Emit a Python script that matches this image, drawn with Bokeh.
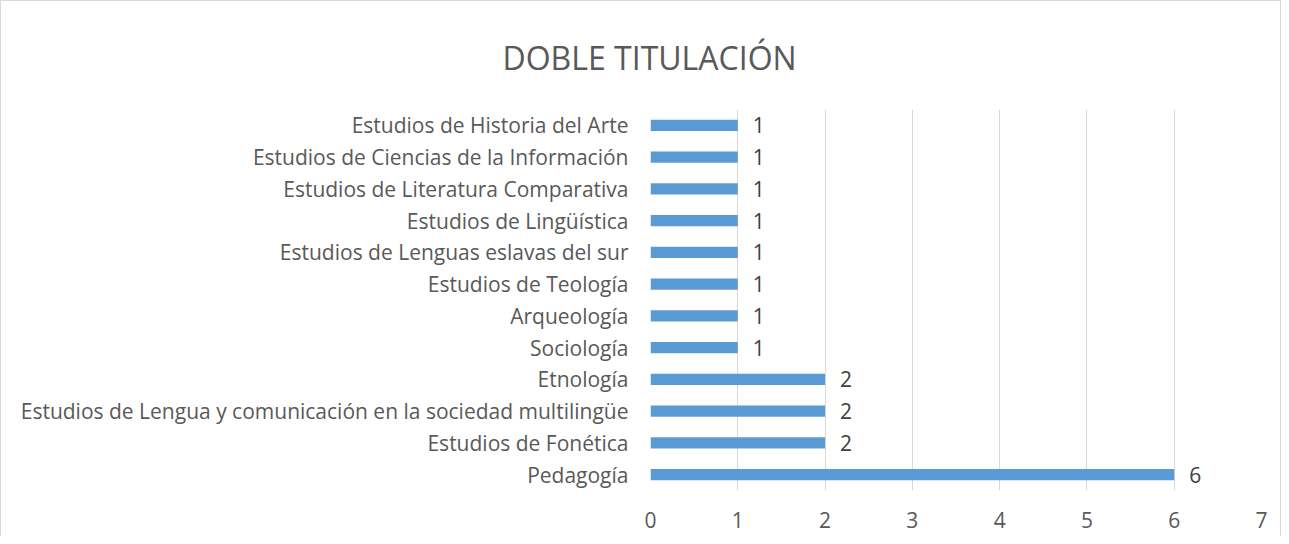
from bokeh.plotting import figure
from bokeh.models import ColumnDataSource, LabelSet, FactorRange, Range1d, FixedTicker
from bokeh.embed import file_html
from bokeh.resources import INLINE
from bokeh.core.properties import value

categories = [
    "Estudios de Historia del Arte",
    "Estudios de Ciencias de la Información",
    "Estudios de Literatura Comparativa",
    "Estudios de Lingüística",
    "Estudios de Lenguas eslavas del sur",
    "Estudios de Teología",
    "Arqueología",
    "Sociología",
    "Etnología",
    "Estudios de Lengua y comunicación en la sociedad multilingüe",
    "Estudios de Fonética",
    "Pedagogía",
]
counts = [1, 1, 1, 1, 1, 1, 1, 1, 2, 2, 2, 6]
x_ticks = [0, 1, 2, 3, 4, 5, 6, 7]
title_text = "DOBLE TITULACIÓN"

FONT = "Open Sans"
TXT = "#595959"
FS = "21px"

src = ColumnDataSource(dict(cat=categories, n=counts, lab=[str(c) for c in counts]))

p = figure(
    width=1281, height=536,
    y_range=FactorRange(factors=list(reversed(categories)), range_padding=0),
    x_range=Range1d(0, 7),
    output_backend="svg", toolbar_location=None,
    min_border_left=649, min_border_right=21, min_border_top=108, min_border_bottom=47,
)
p.styles = {"border-top": "1px solid #d9d9d9", "border-left": "1px solid #d9d9d9",
            "border-right": "1px solid #d9d9d9"}
p.outline_line_color = None

p.title.text = title_text
p.title.align = "left"
p.title.offset = -148
p.title.standoff = 62
p.title.text_font = FONT
p.title.text_font_size = "32px"
p.title.text_font_style = "normal"
p.title.text_color = TXT

p.hbar(y="cat", right="n", left=0, height=0.35, source=src, color="#5b9bd5", line_color=None)

p.add_layout(LabelSet(x="n", y="cat", text="lab", source=src, x_offset=15,
                      text_baseline="middle", text_font=value(FONT), text_font_size=FS,
                      text_color="#404040"))

p.xaxis.ticker = FixedTicker(ticks=x_ticks)
p.xaxis.axis_line_color = None
p.xaxis.major_tick_line_color = None
p.xaxis.major_tick_out = 0
p.xaxis.minor_tick_line_color = None
p.xaxis.major_label_text_font = FONT
p.xaxis.major_label_text_font_size = FS
p.xaxis.major_label_text_color = TXT
p.xaxis.major_label_standoff = 21

p.yaxis.axis_line_color = None
p.yaxis.major_tick_line_color = None
p.yaxis.major_tick_out = 0
p.yaxis.minor_tick_line_color = None
p.yaxis.major_label_text_font = FONT
p.yaxis.major_label_text_font_size = FS
p.yaxis.major_label_text_color = TXT
p.yaxis.major_label_standoff = 22

p.ygrid.grid_line_color = None
p.xgrid.grid_line_color = "#d9d9d9"
p.xgrid.grid_line_width = 1

open("out.html", "w").write(file_html(p, INLINE))
